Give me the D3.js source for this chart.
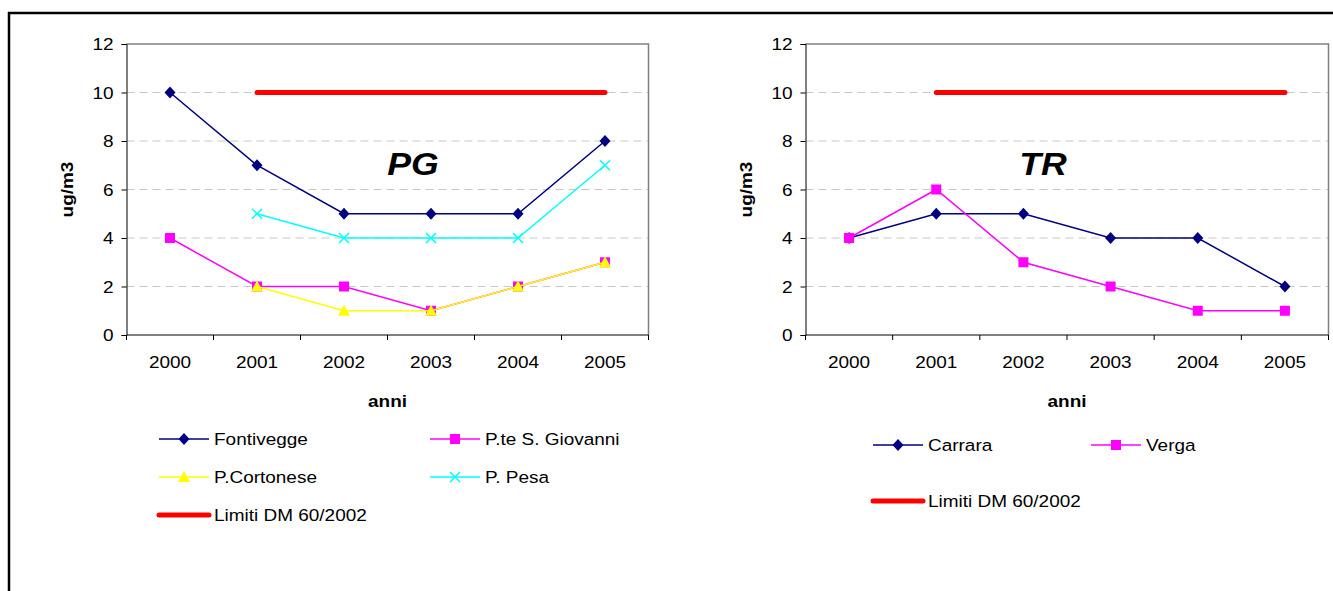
<!DOCTYPE html>
<html>
<head>
<meta charset="utf-8">
<script src="https://cdn.jsdelivr.net/npm/d3@7"></script>
<style>
  body { margin: 0; background: #fff; }
  svg { display: block; font-family: "Liberation Sans", Arial, sans-serif; }
</style>
</head>
<body>
<div id="chart"></div>
<script>
// data
var anni = ['2000', '2001', '2002', '2003', '2004', '2005'];
var yTicks = [0, 2, 4, 6, 8, 10, 12];

var fontivegge = [10, 7, 5, 5, 5, 8];
var giovanni = [4, 2, 2, 1, 2, 3];
var cortonese = [null, 2, 1, 1, 2, 3];
var pesa = [null, 5, 4, 4, 4, 7];
var limitiPG = [null, 10, 10, 10, 10, 10];

var carrara = [4, 5, 5, 4, 4, 2];
var verga = [4, 6, 3, 2, 1, 1];
var limitiTR = [null, 10, 10, 10, 10, 10];

var W = 1333, H = 591;
var SX = 1.15; // text in the picture is a bit wide

var svg = d3.select('#chart')
            .append('svg')
            .attr('width', W)
            .attr('height', H);

// outer frame (top and left edge only visible)
svg.append('line')
  .attr('x1', 8).attr('y1', 13).attr('x2', W).attr('y2', 13)
  .attr('stroke', '#000').attr('stroke-width', 2.5);
svg.append('line')
  .attr('x1', 9).attr('y1', 12).attr('x2', 9).attr('y2', H)
  .attr('stroke', '#000').attr('stroke-width', 2.5);

function label(g, txt, x, y, opts) {
  opts = opts || {};
  var t = g.append('text')
    .text(txt)
    .attr('transform', 'translate(' + x + ',' + y + ')' +
      (opts.rotate ? ' rotate(' + opts.rotate + ')' : '') +
      ' scale(' + SX + ',1)')
    .attr('font-size', (opts.size || 16.5) + 'px')
    .attr('text-anchor', opts.anchor || 'start')
    .attr('fill', '#000');
  if (opts.bold) t.attr('font-weight', 'bold');
  if (opts.italic) t.attr('font-style', 'italic');
  return t;
}

function marker(g, type, cx, cy, color) {
  if (type === 'diamond') {
    g.append('path')
      .attr('d', 'M' + cx + ',' + (cy - 6) + 'L' + (cx + 5.5) + ',' + cy +
        'L' + cx + ',' + (cy + 6) + 'L' + (cx - 5.5) + ',' + cy + 'Z')
      .attr('fill', color);
  } else if (type === 'square') {
    g.append('rect')
      .attr('x', cx - 5).attr('y', cy - 5)
      .attr('width', 10).attr('height', 10)
      .attr('fill', color);
  } else if (type === 'triangle') {
    g.append('path')
      .attr('d', 'M' + cx + ',' + (cy - 6) + 'L' + (cx + 6) + ',' + (cy + 5) +
        'L' + (cx - 6) + ',' + (cy + 5) + 'Z')
      .attr('fill', color);
  } else if (type === 'x') {
    g.append('path')
      .attr('d', 'M' + (cx - 5) + ',' + (cy - 5) + 'L' + (cx + 5) + ',' + (cy + 5) +
        'M' + (cx + 5) + ',' + (cy - 5) + 'L' + (cx - 5) + ',' + (cy + 5))
      .attr('stroke', color).attr('stroke-width', 1.5).attr('fill', 'none');
  }
}

function drawChart(c) {
  var g = svg.append('g');
  var x = d3.scaleBand().domain(anni).range([c.left, c.right]).padding(0);
  var y = d3.scaleLinear().domain([0, 12]).range([335, 44]);
  var cx = function(i) { return x(anni[i]) + x.bandwidth() / 2; };

  // grid
  g.selectAll('line.grid')
    .data(yTicks.filter(function(d) { return d > 0 && d < 12; }))
    .enter()
    .append('line')
    .attr('x1', c.left).attr('x2', c.right)
    .attr('y1', function(d) { return y(d); })
    .attr('y2', function(d) { return y(d); })
    .attr('stroke', '#c8c8c8')
    .attr('stroke-dasharray', '8,5');

  // plot frame top/right
  g.append('path')
    .attr('d', 'M' + c.left + ',' + y(12) + 'H' + c.right + 'V' + y(0))
    .attr('fill', 'none').attr('stroke', '#808080').attr('stroke-width', 1.5);

  // y axis
  var yAxis = d3.axisLeft(y).tickValues(yTicks).tickSize(5).tickFormat('');
  var ya = g.append('g').attr('transform', 'translate(' + c.left + ',0)').call(yAxis);
  ya.select('.domain').attr('stroke', '#000');
  yTicks.forEach(function(d) {
    label(g, d, c.left - 13, y(d) + 6, {anchor: 'end'});
  });

  // x axis, ticks between categories
  g.append('line')
    .attr('x1', c.left).attr('x2', c.right)
    .attr('y1', y(0)).attr('y2', y(0))
    .attr('stroke', '#000');
  var bounds = anni.map(function(a) { return x(a); }).concat([c.right]);
  g.selectAll('line.xtick')
    .data(bounds)
    .enter()
    .append('line')
    .attr('x1', function(d) { return d; }).attr('x2', function(d) { return d; })
    .attr('y1', y(0)).attr('y2', y(0) + 5)
    .attr('stroke', '#000');
  anni.forEach(function(a, i) {
    label(g, a, cx(i), 368, {anchor: 'middle'});
  });

  // axis titles
  label(g, 'anni', (c.left + c.right) / 2, 407, {anchor: 'middle', bold: true});
  label(g, 'ug/m3', c.left - 54, (y(0) + y(12)) / 2, {anchor: 'middle', bold: true, rotate: -90});
  label(g, c.title, c.titleX, 175, {anchor: 'middle', bold: true, italic: true, size: 31});

  // series
  c.series.forEach(function(s) {
    var line = d3.line()
      .defined(function(d) { return d != null; })
      .x(function(d, i) { return cx(i); })
      .y(function(d) { return y(d); });
    g.append('path')
      .datum(s.values)
      .attr('d', line)
      .attr('fill', 'none')
      .attr('stroke', s.color)
      .attr('stroke-width', s.thick ? 5 : 1.5)
      .attr('stroke-linecap', s.thick ? 'round' : 'butt');
    if (s.marker) {
      s.values.forEach(function(d, i) {
        if (d != null) marker(g, s.marker, cx(i), y(d), s.color);
      });
    }
  });

  // legend
  c.legend.forEach(function(l) {
    var s = c.series[l.idx];
    g.append('line')
      .attr('x1', l.x).attr('x2', l.x + 50)
      .attr('y1', l.y).attr('y2', l.y)
      .attr('stroke', s.color)
      .attr('stroke-width', s.thick ? 5 : 1.5)
      .attr('stroke-linecap', s.thick ? 'round' : 'butt');
    if (s.marker) marker(g, s.marker, l.x + 25, l.y, s.color);
    label(g, s.name, l.x + 55, l.y + 6, {});
  });
}

drawChart({
  left: 126.5, right: 648.5, title: 'PG', titleX: 413,
  series: [
    {name: 'Fontivegge', values: fontivegge, color: '#000080', marker: 'diamond'},
    {name: 'P.te S. Giovanni', values: giovanni, color: '#ff00ff', marker: 'square'},
    {name: 'P.Cortonese', values: cortonese, color: '#ffff00', marker: 'triangle'},
    {name: 'P. Pesa', values: pesa, color: '#00ffff', marker: 'x'},
    {name: 'Limiti DM 60/2002', values: limitiPG, color: '#ff0000', thick: true}
  ],
  legend: [
    {idx: 0, x: 159, y: 439}, {idx: 1, x: 430, y: 439},
    {idx: 2, x: 159, y: 477}, {idx: 3, x: 430, y: 477},
    {idx: 4, x: 159, y: 515}
  ]
});

drawChart({
  left: 805.5, right: 1328.5, title: 'TR', titleX: 1043,
  series: [
    {name: 'Carrara', values: carrara, color: '#000080', marker: 'diamond'},
    {name: 'Verga', values: verga, color: '#ff00ff', marker: 'square'},
    {name: 'Limiti DM 60/2002', values: limitiTR, color: '#ff0000', thick: true}
  ],
  legend: [
    {idx: 0, x: 873, y: 445}, {idx: 1, x: 1091, y: 445},
    {idx: 2, x: 873, y: 501}
  ]
});
</script>
</body>
</html>
